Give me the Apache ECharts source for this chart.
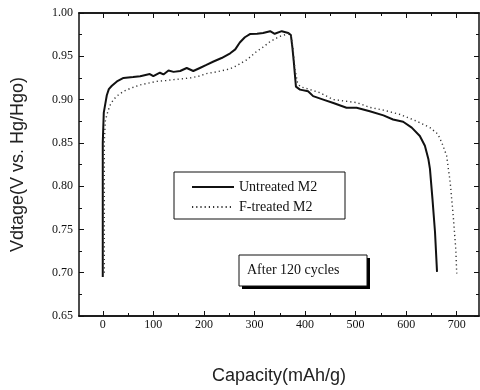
<!DOCTYPE html>
<html>
<head>
<meta charset="utf-8">
<script src="https://cdn.jsdelivr.net/npm/echarts@6/dist/echarts.min.js"></script>
<style>
  html, body { margin: 0; padding: 0; background: #fff; }
  #chart { width: 480px; height: 390px; }
</style>
</head>
<body>
<div id="chart"></div>
<script>
// Discharge curves after 120 cycles: capacity (mAh/g) vs. potential (V vs. Hg/HgO)
const untreatedCap = [0, 0, 2, 5, 8, 12, 18, 28, 41, 60, 74, 93, 100, 113, 120, 130, 140, 153, 166, 179, 192, 205, 219, 235, 252, 262, 271, 281, 291, 305, 317, 331, 340, 354, 367, 372, 375, 378, 382, 390, 406, 416, 436, 456, 482, 502, 528, 555, 574, 594, 611, 627, 637, 644, 647, 652, 657, 661];
const untreatedV   = [0.695, 0.85, 0.885, 0.895, 0.905, 0.912, 0.916, 0.921, 0.925, 0.926, 0.927, 0.9295, 0.927, 0.931, 0.929, 0.9335, 0.932, 0.933, 0.9365, 0.933, 0.9365, 0.94, 0.944, 0.948, 0.9535, 0.958, 0.966, 0.972, 0.9757, 0.976, 0.977, 0.979, 0.976, 0.979, 0.977, 0.9745, 0.96, 0.942, 0.915, 0.9115, 0.9095, 0.904, 0.9, 0.896, 0.8905, 0.8905, 0.8866, 0.8817, 0.877, 0.8744, 0.8676, 0.858, 0.8466, 0.831, 0.82, 0.785, 0.747, 0.701];

const treatedCap = [3, 3, 5, 8, 11, 15, 21, 30, 41, 55, 74, 90, 107, 125, 140, 157, 173, 190, 205, 225, 245, 258, 270, 285, 304, 318, 331, 350, 367, 372, 376, 380, 385, 390, 410, 429, 456, 482, 502, 528, 555, 588, 621, 647, 663, 673, 680, 687, 693, 698, 700];
const treatedV   = [0.7, 0.85, 0.875, 0.882, 0.888, 0.894, 0.9, 0.905, 0.9095, 0.913, 0.917, 0.919, 0.921, 0.922, 0.923, 0.924, 0.925, 0.927, 0.93, 0.932, 0.9345, 0.937, 0.941, 0.946, 0.9555, 0.961, 0.967, 0.973, 0.976, 0.975, 0.96, 0.935, 0.92, 0.915, 0.9115, 0.908, 0.9, 0.898, 0.8965, 0.891, 0.8878, 0.8828, 0.875, 0.8676, 0.8599, 0.8465, 0.835, 0.8045, 0.766, 0.728, 0.699];

const seriesNames = ['Untreated M2', 'F-treated M2'];
const xMajorTicks = [0, 100, 200, 300, 400, 500, 600, 700];
const xMinorTicks = [50, 150, 250, 350, 450, 550, 650];
const xRange = [-47, 744];
const yRange = [0.65, 1.0];
const yStep = 0.05;

const pairs = (xs, ys) => xs.map((x, i) => [x, ys[i]]);

const ink = '#111';
const serif = '"Liberation Serif", "DejaVu Serif", serif';
const sans = '"Liberation Sans", Arial, sans-serif';
const frameLine = { show: true, onZero: false, lineStyle: { color: ink, width: 1.5 } };

function xAxisDef(position, ticks, len, withLabels) {
  const ax = {
    type: 'value', min: xRange[0], max: xRange[1], position: position,
    axisLine: frameLine, splitLine: { show: false },
    axisTick: { show: true, inside: true, length: len, customValues: ticks, lineStyle: { color: ink, width: 1 } },
    axisLabel: { show: false }
  };
  if (withLabels) {
    ax.axisLabel = { show: true, customValues: ticks, margin: 3, color: ink, fontFamily: serif, fontSize: 12 };
    ax.name = 'Capacity(mAh/g)';
    ax.nameLocation = 'middle';
    ax.nameGap = 51;
    ax.nameTextStyle = { color: '#222', fontFamily: sans, fontSize: 18 };
  }
  return ax;
}

function yAxisDef(position, withLabels) {
  const ax = {
    type: 'value', min: yRange[0], max: yRange[1], interval: yStep, position: position,
    axisLine: frameLine, splitLine: { show: false },
    axisTick: { show: true, inside: true, length: 5, lineStyle: { color: ink, width: 1 } },
    minorTick: { show: true, splitNumber: 2, length: 3, lineStyle: { color: ink, width: 1 } },
    minorSplitLine: { show: false },
    axisLabel: { show: false }
  };
  if (withLabels) {
    ax.axisLabel = { show: true, margin: 6, color: ink, fontFamily: serif, fontSize: 12,
      formatter: v => v.toFixed(2) };
    ax.name = 'Vdtage(V vs. Hg/Hgo)';
    ax.nameLocation = 'middle';
    ax.nameRotate = 90;
    ax.nameGap = 52;
    ax.nameTextStyle = { color: '#222', fontFamily: sans, fontSize: 18 };
  }
  return ax;
}

const chart = echarts.init(document.getElementById('chart'), null, { renderer: 'canvas' });
chart.setOption({
  animation: false,
  backgroundColor: '#fff',
  grid: { left: 79, right: 1, top: 13, bottom: 72, containLabel: false },
  xAxis: [
    xAxisDef('bottom', xMajorTicks, 5, true),
    xAxisDef('bottom', xMinorTicks, 3, false),
    xAxisDef('top', xMajorTicks, 5, false),
    xAxisDef('top', xMinorTicks, 3, false)
  ],
  yAxis: [yAxisDef('left', true), yAxisDef('right', false)],
  legend: {
    data: seriesNames,
    orient: 'vertical',
    z: 20,
    left: 191, top: 180,
    padding: 0,
    itemWidth: 42, itemHeight: 14, itemGap: 6,
    itemStyle: { opacity: 0 },
    textStyle: { color: ink, fontFamily: serif, fontSize: 14 }
  },
  graphic: [
    { type: 'rect', z: 5, silent: true,
      shape: { x: 174, y: 172, width: 171, height: 47 },
      style: { fill: '#fff', stroke: ink, lineWidth: 1 } },
    { type: 'rect', z: 5, silent: true,
      shape: { x: 242, y: 258, width: 128, height: 31 },
      style: { fill: '#000' } },
    { type: 'rect', z: 6, silent: true,
      shape: { x: 239, y: 255, width: 128, height: 31 },
      style: { fill: '#fff', stroke: ink, lineWidth: 1 } },
    { type: 'text', z: 7, silent: true, left: 247, top: 263,
      style: { text: 'After 120 cycles', fill: ink, font: '14px ' + serif } }
  ],
  series: [
    { name: seriesNames[0], type: 'line', xAxisIndex: 0, yAxisIndex: 0,
      data: pairs(untreatedCap, untreatedV), showSymbol: false, symbol: 'none', smooth: false,
      lineStyle: { color: ink, width: 2 }, itemStyle: { color: ink } },
    { name: seriesNames[1], type: 'line', xAxisIndex: 0, yAxisIndex: 0,
      data: pairs(treatedCap, treatedV), showSymbol: false, symbol: 'none', smooth: false,
      lineStyle: { color: '#333', width: 1.4, type: [1.2, 3] }, itemStyle: { color: '#333' } }
  ]
});
</script>
</body>
</html>
